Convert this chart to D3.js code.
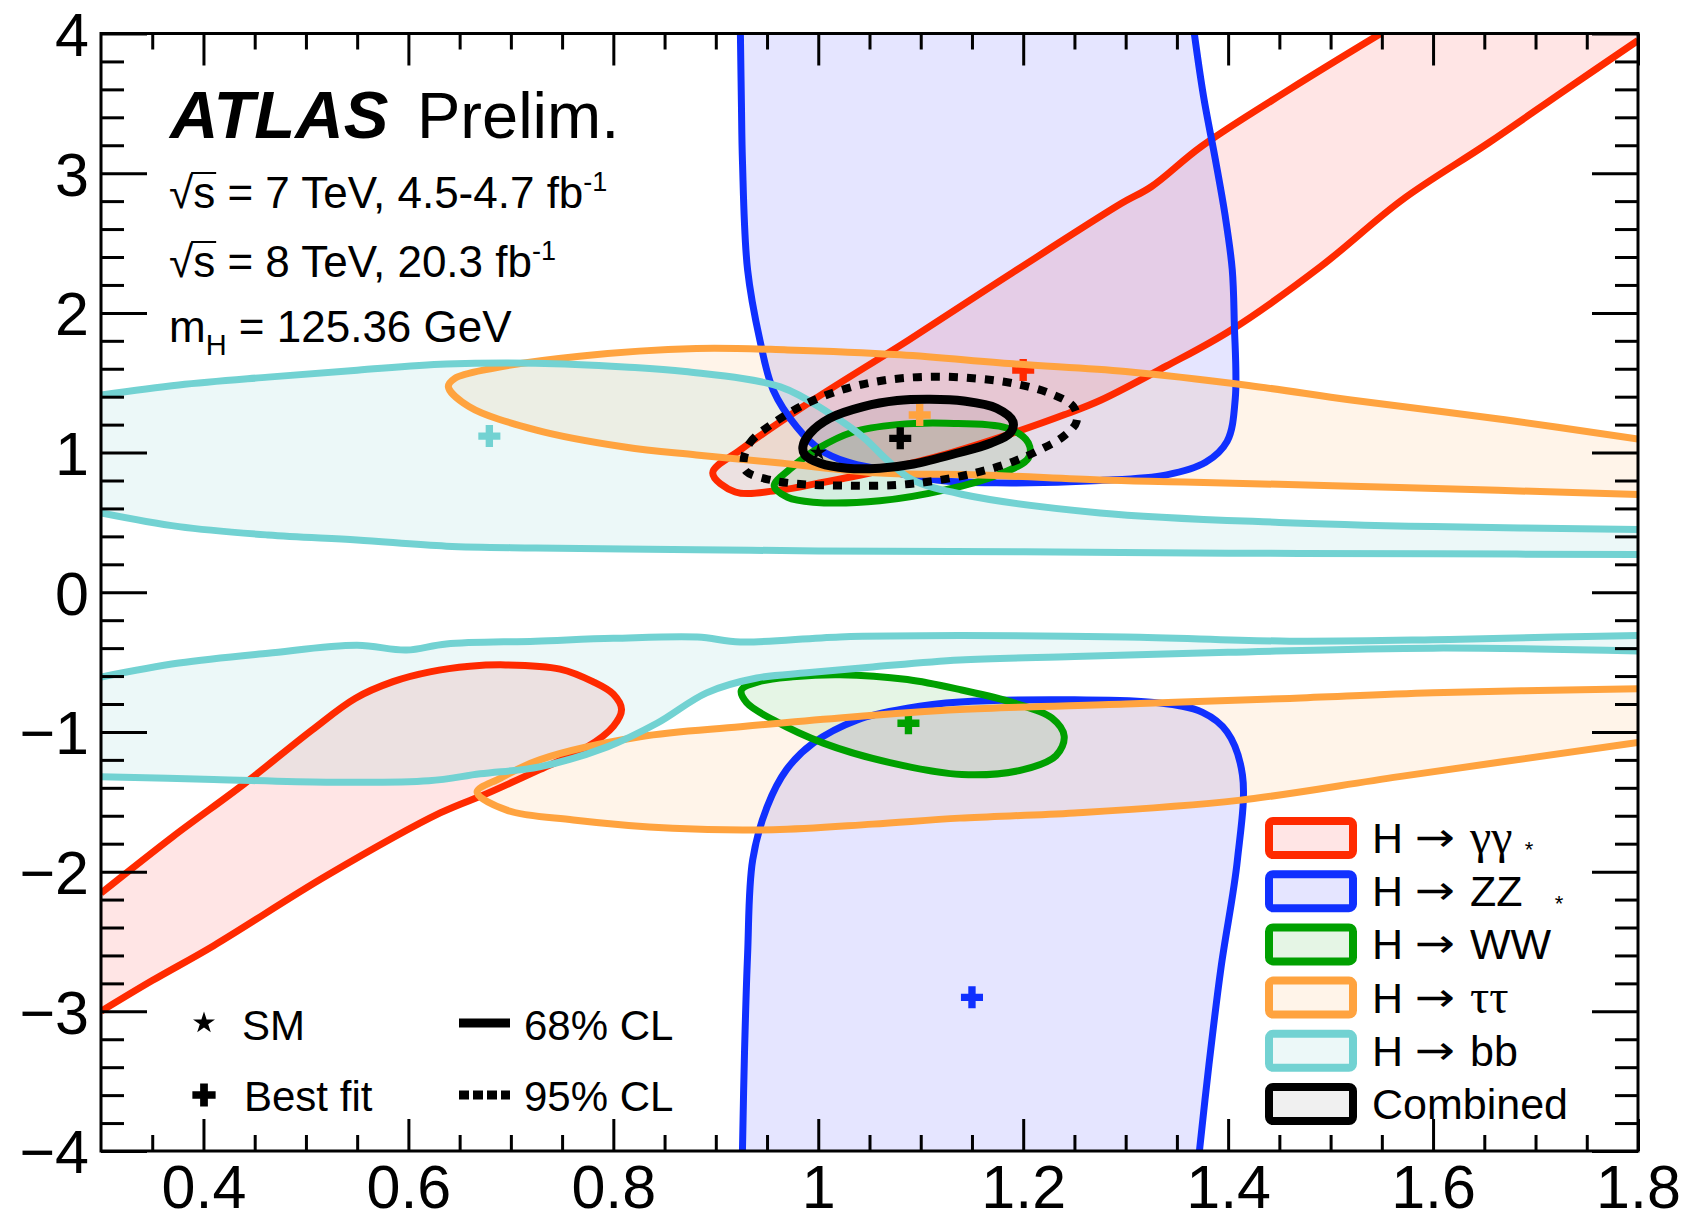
<!DOCTYPE html>
<html>
<head>
<meta charset="utf-8">
<script src="https://cdn.jsdelivr.net/npm/d3@7"></script>
<style>
  body { margin: 0; background: #fff; }
  text { font-family: "Liberation Sans", Arial, Helvetica, sans-serif; fill: #000; }
</style>
</head>
<body>
<svg id="chart" width="1687" height="1223"></svg>
<script>
// ---- data (kappa_V, kappa_F) ----
const xTicks = [0.4, 0.6, 0.8, 1, 1.2, 1.4, 1.6, 1.8];
const yTicks = [-4, -3, -2, -1, 0, 1, 2, 3, 4];

const legendLabels = ["γγ", "ZZ", "WW", "ττ", "bb", "Combined"];

// H -> gamma gamma
const gamgamBand = [[1.549,4.0],[1.46,3.6],[1.374,3.192],[1.325,2.903],[1.296,2.784],[1.19,2.29],[1.087,1.80],[0.995,1.376],[0.924,1.019],[0.897,0.854],[0.919,0.718],[0.963,0.732],[1.0,0.78],[1.06,0.87],[1.13,1.0],[1.194,1.15],[1.24,1.27],[1.276,1.376],[1.34,1.62],[1.403,1.878],[1.49,2.33],[1.57,2.81],[1.654,3.216],[1.73,3.6],[1.80,3.95],[1.80,4.0]];
const gamgamLow = [[0.3,-2.154],[0.37,-1.75],[0.44,-1.37],[0.506,-0.986],[0.548,-0.76],[0.585,-0.64],[0.621,-0.57],[0.66,-0.53],[0.695,-0.52],[0.748,-0.55],[0.78,-0.64],[0.80,-0.73],[0.808,-0.84],[0.80,-0.96],[0.774,-1.11],[0.728,-1.27],[0.677,-1.44],[0.631,-1.58],[0.52,-2.03],[0.41,-2.53],[0.35,-2.78],[0.3,-3.0]];
const gamgamBest = [1.2, 1.591];

// H -> ZZ*
const zzUpper = [[0.924,4.0],[0.925,3.5],[0.926,3.09],[0.931,2.31],[0.943,1.806],[0.956,1.448],[0.979,1.183],[1.002,1.02],[1.028,0.933],[1.06,0.88],[1.12,0.80],[1.174,0.783],[1.275,0.80],[1.34,0.84],[1.378,0.93],[1.399,1.08],[1.407,1.39],[1.406,1.93],[1.404,2.31],[1.397,2.7],[1.388,3.08],[1.376,3.55],[1.367,4.0]];
const zzLower = [[0.926,-4.0],[0.928,-3.3],[0.931,-2.6],[0.936,-1.916],[0.95,-1.537],[0.969,-1.27],[0.995,-1.08],[1.038,-0.914],[1.087,-0.83],[1.138,-0.786],[1.25,-0.77],[1.33,-0.79],[1.375,-0.86],[1.399,-1.0],[1.414,-1.31],[1.409,-1.92],[1.393,-2.69],[1.381,-3.4],[1.372,-4.0]];
const zzBest = [1.15, -2.90];

// H -> WW*
const wwUpper = [[0.957,0.76],[0.97,0.68],[0.995,0.645],[1.06,0.655],[1.125,0.735],[1.175,0.84],[1.205,0.96],[1.205,1.07],[1.184,1.176],[1.125,1.21],[1.077,1.20],[1.034,1.147],[1.0,1.03],[0.972,0.88]];
const wwLower = [[0.925,-0.70],[0.945,-0.635],[0.975,-0.605],[1.021,-0.59],[1.087,-0.625],[1.14,-0.70],[1.19,-0.79],[1.228,-0.90],[1.24,-1.03],[1.232,-1.17],[1.20,-1.27],[1.14,-1.305],[1.07,-1.22],[1.005,-1.08],[0.956,-0.914],[0.93,-0.79]];
const wwBest = [1.088, -0.938];

// H -> tau tau
const tautauUpper = [[1.8,1.096],[1.67,1.235],[1.52,1.376],[1.42,1.48],[1.30,1.58],[1.19,1.635],[1.08,1.70],[0.97,1.735],[0.881,1.745],[0.767,1.69],[0.68,1.60],[0.645,1.53],[0.639,1.472],[0.659,1.33],[0.724,1.163],[0.811,1.04],[0.881,0.983],[0.963,0.925],[1.06,0.854],[1.158,0.84],[1.275,0.804],[1.357,0.79],[1.567,0.75],[1.8,0.70]];
const tautauLower = [[1.8,-0.69],[1.6,-0.72],[1.46,-0.76],[1.30,-0.80],[1.138,-0.84],[1.021,-0.90],[0.924,-0.963],[0.826,-1.035],[0.728,-1.20],[0.69,-1.33],[0.667,-1.43],[0.696,-1.56],[0.761,-1.63],[0.858,-1.69],[0.956,-1.70],[1.053,-1.66],[1.138,-1.617],[1.25,-1.58],[1.41,-1.49],[1.567,-1.32],[1.8,-1.075]];
const tautauBest = [1.099, 1.269];

// H -> bb
const bbUpper = [[0.3,1.412],[0.376,1.484],[0.463,1.54],[0.55,1.59],[0.637,1.634],[0.724,1.64],[0.811,1.613],[0.87,1.58],[0.963,1.47],[1.011,1.28],[1.044,1.11],[1.067,0.947],[1.092,0.804],[1.141,0.70],[1.275,0.568],[1.45,0.50],[1.6,0.47],[1.8,0.45],[1.8,0.27],[1.6,0.275],[1.4,0.28],[1.2,0.29],[1.0,0.296],[0.881,0.305],[0.724,0.317],[0.637,0.33],[0.55,0.374],[0.463,0.41],[0.376,0.47],[0.3,0.568]];
const bbLower = [[0.3,-0.607],[0.376,-0.507],[0.463,-0.436],[0.55,-0.38],[0.598,-0.414],[0.637,-0.37],[0.724,-0.35],[0.80,-0.33],[0.882,-0.32],[0.924,-0.356],[1.021,-0.32],[1.138,-0.31],[1.3,-0.32],[1.46,-0.35],[1.6,-0.34],[1.72,-0.32],[1.8,-0.31],[1.8,-0.42],[1.6,-0.40],[1.4,-0.43],[1.25,-0.46],[1.138,-0.485],[1.053,-0.535],[0.989,-0.577],[0.94,-0.614],[0.891,-0.72],[0.843,-0.936],[0.794,-1.107],[0.728,-1.25],[0.67,-1.30],[0.62,-1.35],[0.52,-1.36],[0.41,-1.34],[0.3,-1.32]];
const bbBest = [0.679, 1.118];

// combined
const comb68 = [[0.985,1.042],[0.992,1.138],[1.011,1.245],[1.044,1.329],[1.077,1.372],[1.109,1.381],[1.142,1.369],[1.174,1.317],[1.19,1.221],[1.187,1.138],[1.168,1.067],[1.135,0.995],[1.093,0.918],[1.06,0.888],[1.028,0.888],[1.002,0.923],[0.987,0.983]];
const comb95 = [[0.927,0.923],[0.933,1.067],[0.956,1.21],[0.989,1.353],[1.028,1.46],[1.067,1.52],[1.109,1.543],[1.151,1.532],[1.19,1.496],[1.226,1.424],[1.249,1.329],[1.252,1.221],[1.239,1.114],[1.216,1.019],[1.19,0.935],[1.158,0.863],[1.119,0.804],[1.077,0.768],[1.028,0.763],[0.985,0.773],[0.953,0.804],[0.93,0.863]];
const combBest = [1.08, 1.102];
const smPoint = [1, 1];

const channels = [
  { color: "#ff2a00", fill: "rgba(255,0,0,0.1)",     regions: [gamgamBand, gamgamLow],  best: gamgamBest },
  { color: "#1030ff", fill: "rgba(0,0,255,0.1)",     regions: [zzUpper, zzLower],       best: zzBest },
  { color: "#00a000", fill: "rgba(0,160,0,0.1)",     regions: [wwUpper, wwLower],       best: wwBest },
  { color: "#ffa33f", fill: "rgba(255,150,40,0.1)",  regions: [tautauUpper, tautauLower], best: tautauBest },
  { color: "#72d2d2", fill: "rgba(100,200,200,0.12)", regions: [bbUpper, bbLower],      best: bbBest },
  { color: "#000000", fill: "rgba(0,0,0,0.06)",      regions: [comb68],                 best: combBest }
];

// ---- layout ----
const pL = 101, pR = 1638, pT = 33.5, pB = 1151;
const svg = d3.select("#chart");
const x = d3.scaleLinear().domain([0.3, 1.8]).range([pL, pR]);
const y = d3.scaleLinear().domain([-4, 4]).range([pB, pT]);

const lineOpen = d3.line().x(d => x(d[0])).y(d => y(d[1])).curve(d3.curveCatmullRom.alpha(0.5));
const lineClosed = d3.line().x(d => x(d[0])).y(d => y(d[1])).curve(d3.curveCatmullRomClosed.alpha(0.5));

// which frame edge a contour point sits on
function edgeOf(p) {
  if (p[0] <= 0.3) return "L";
  if (p[0] >= 1.8) return "R";
  if (p[1] >= 4) return "T";
  if (p[1] <= -4) return "B";
  return null;
}
function regionPaths(pts) {
  if (!pts.some(edgeOf)) {
    const d = lineClosed(pts);
    return { fill: d, stroke: [d] };
  }
  const runs = [[pts[0]]];
  for (let i = 1; i < pts.length; i++) {
    const a = edgeOf(pts[i - 1]), b = edgeOf(pts[i]);
    if (a && a === b) runs.push([pts[i]]);
    else runs[runs.length - 1].push(pts[i]);
  }
  const parts = runs.map(r => r.length > 1 ? lineOpen(r) : `M${x(r[0][0])},${y(r[0][1])}`);
  const fill = parts.map((s, i) => i ? "L" + s.slice(1) : s).join("") + "Z";
  return { fill, stroke: parts.filter((s, i) => runs[i].length > 1) };
}

svg.append("defs").append("clipPath").attr("id", "plotclip")
  .append("rect").attr("x", pL).attr("y", pT).attr("width", pR - pL).attr("height", pB - pT);

const plot = svg.append("g").attr("clip-path", "url(#plotclip)");

// fills first
channels.forEach(ch => {
  ch.regions.forEach(r => {
    plot.append("path").attr("d", regionPaths(r).fill).attr("fill", ch.fill).attr("stroke", "none");
  });
});

const cross = d3.symbol(d3.symbolCross).size(270);
// lines + best fit markers
channels.forEach(ch => {
  ch.regions.forEach(r => {
    regionPaths(r).stroke.forEach(d => {
      plot.append("path").attr("d", d).attr("fill", "none")
        .attr("stroke", ch.color).attr("stroke-width", ch.color === "#000000" ? 9 : 7)
        .attr("stroke-linejoin", "round");
    });
  });
  if (ch.color === "#000000") {
    plot.append("path").attr("d", lineClosed(comb95)).attr("fill", "none")
      .attr("stroke", "#000").attr("stroke-width", 8).attr("stroke-dasharray", "9 9");
  }
  plot.append("path").attr("d", cross())
    .attr("transform", `translate(${x(ch.best[0])},${y(ch.best[1])})`)
    .attr("fill", ch.color);
});

plot.append("path").attr("d", d3.symbol(d3.symbolStar).size(90)())
  .attr("transform", `translate(${x(smPoint[0])},${y(smPoint[1])})`).attr("fill", "#000");

// ---- axes ----
const axes = svg.append("g");
const xMinor = d3.range(7, 36).filter(i => i % 4 !== 0).map(i => i * 0.05);
const yMinor = d3.range(-20, 21).filter(i => i % 5 !== 0).map(i => i * 0.2);
const fmt = d => d < 0 ? "−" + Math.abs(d) : String(d);

function styleAxis(g) {
  g.select(".domain").remove();
  g.selectAll("line").attr("stroke", "#000").attr("stroke-width", 3);
  g.selectAll("text").attr("font-size", 61).attr("fill", "#000");
}

axes.append("g").attr("transform", `translate(0,${pB})`)
  .call(d3.axisBottom(x).tickValues(xTicks).tickSizeInner(-32).tickSizeOuter(0).tickPadding(14).tickFormat(fmt))
  .call(styleAxis);
axes.append("g").attr("transform", `translate(0,${pB})`)
  .call(d3.axisBottom(x).tickValues(xMinor).tickSize(-16).tickFormat("")).call(styleAxis);
axes.append("g").attr("transform", `translate(0,${pT})`)
  .call(d3.axisTop(x).tickValues(xTicks).tickSize(-32).tickFormat("")).call(styleAxis);
axes.append("g").attr("transform", `translate(0,${pT})`)
  .call(d3.axisTop(x).tickValues(xMinor).tickSize(-16).tickFormat("")).call(styleAxis);
axes.append("g").attr("transform", `translate(${pL},0)`)
  .call(d3.axisLeft(y).tickValues(yTicks).tickSizeInner(-46).tickSizeOuter(0).tickPadding(12).tickFormat(fmt))
  .call(styleAxis)
  .call(g => g.selectAll("text").attr("dy", "0.36em"));
axes.append("g").attr("transform", `translate(${pL},0)`)
  .call(d3.axisLeft(y).tickValues(yMinor).tickSize(-23).tickFormat("")).call(styleAxis);
axes.append("g").attr("transform", `translate(${pR},0)`)
  .call(d3.axisRight(y).tickValues(yTicks).tickSize(-46).tickFormat("")).call(styleAxis);
axes.append("g").attr("transform", `translate(${pR},0)`)
  .call(d3.axisRight(y).tickValues(yMinor).tickSize(-23).tickFormat("")).call(styleAxis);

svg.append("rect").attr("x", pL).attr("y", pT).attr("width", pR - pL).attr("height", pB - pT)
  .attr("fill", "none").attr("stroke", "#000").attr("stroke-width", 3);

// ---- ATLAS label ----
svg.append("text").attr("x", 170).attr("y", 138).attr("font-size", 67)
  .attr("font-weight", "bold").attr("font-style", "italic").text("ATLAS");
svg.append("text").attr("x", 417).attr("y", 138).attr("font-size", 65).text("Prelim.");

function sqrtLine(yb, rest) {
  const t = svg.append("text").attr("x", 169).attr("y", yb).attr("font-size", 44);
  t.append("tspan").text("√");
  t.append("tspan").text("s");
  t.append("tspan").text(rest);
  t.append("tspan").attr("font-size", 27).attr("dy", -17).text("-1");
  const n = t.node();
  const x0 = n.getStartPositionOfChar(1).x, x1 = n.getEndPositionOfChar(1).x;
  svg.append("line").attr("x1", x0 - 2).attr("x2", x1 + 1).attr("y1", yb - 35).attr("y2", yb - 35)
    .attr("stroke", "#000").attr("stroke-width", 2);
}
sqrtLine(208, " = 7 TeV, 4.5-4.7 fb");
sqrtLine(277, " = 8 TeV, 20.3 fb");
const mh = svg.append("text").attr("x", 169).attr("y", 342).attr("font-size", 44);
mh.append("tspan").text("m");
mh.append("tspan").attr("font-size", 29).attr("dy", 13).text("H");
mh.append("tspan").attr("dy", -13).text(" = 125.36 GeV");

// ---- legend: SM / best fit / CL ----
svg.append("path").attr("d", d3.symbol(d3.symbolStar).size(150)())
  .attr("transform", "translate(204,1023)").attr("fill", "#000");
svg.append("text").attr("x", 242).attr("y", 1040).attr("font-size", 42).text("SM");
svg.append("path").attr("d", d3.symbol(d3.symbolCross).size(300)())
  .attr("transform", "translate(204,1095)").attr("fill", "#000");
svg.append("text").attr("x", 244).attr("y", 1111).attr("font-size", 42).text("Best fit");
svg.append("line").attr("x1", 459).attr("x2", 510).attr("y1", 1023).attr("y2", 1023)
  .attr("stroke", "#000").attr("stroke-width", 9);
svg.append("line").attr("x1", 459).attr("x2", 510).attr("y1", 1095).attr("y2", 1095)
  .attr("stroke", "#000").attr("stroke-width", 9).attr("stroke-dasharray", "10 4");
svg.append("text").attr("x", 524).attr("y", 1040).attr("font-size", 42).text("68% CL");
svg.append("text").attr("x", 524).attr("y", 1111).attr("font-size", 42).text("95% CL");

// ---- legend: channels ----
const leg = svg.append("g");
channels.forEach((ch, i) => {
  const cy = 838 + i * 53.2;
  leg.append("rect").attr("x", 1269).attr("y", cy - 17).attr("width", 84).attr("height", 34)
    .attr("rx", 4).attr("fill", ch.fill).attr("stroke", ch.color).attr("stroke-width", 8);
  const lab = legendLabels[i];
  if (lab === "Combined") {
    leg.append("text").attr("x", 1372).attr("y", cy + 15).attr("font-size", 43).text(lab);
    return;
  }
  leg.append("text").attr("x", 1372).attr("y", cy + 15).attr("font-size", 43).text("H");
  leg.append("text").attr("transform", `translate(1415,${cy + 13}) scale(1.2,1)`)
    .style("font-family", '"DejaVu Sans", sans-serif').attr("font-size", 40).text("→");
  const greek = lab === "γγ" || lab === "ττ";
  const t = leg.append("text").attr("x", 1470).attr("y", cy + 15)
    .attr("font-size", greek ? 48 : 43).text(lab);
  if (greek) t.style("font-family", '"Liberation Serif", "DejaVu Serif", serif');
});
leg.append("text").attr("x", 1529).attr("y", 857).attr("font-size", 22).attr("text-anchor", "middle").text("*");
leg.append("text").attr("x", 1559).attr("y", 911).attr("font-size", 22).attr("text-anchor", "middle").text("*");
</script>
</body>
</html>
